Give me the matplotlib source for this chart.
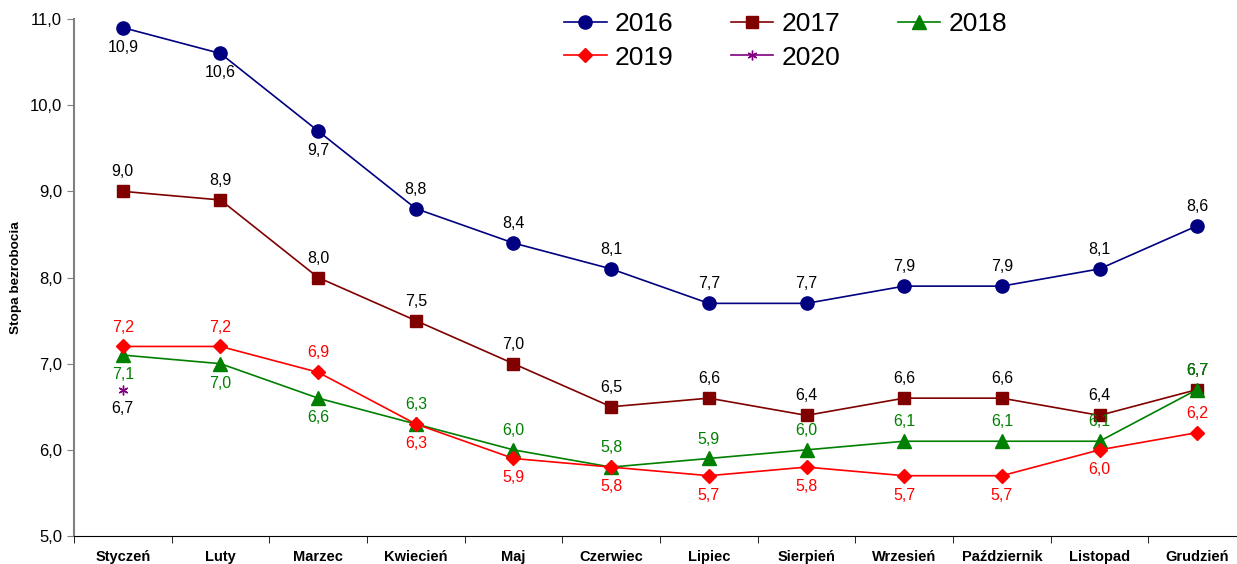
import matplotlib.pyplot as plt
from matplotlib.ticker import FuncFormatter, FixedLocator

plt.rcParams['font.family'] = ['Liberation Sans', 'DejaVu Sans']

months = ['Styczeń', 'Luty', 'Marzec', 'Kwiecień', 'Maj', 'Czerwiec', 'Lipiec',
          'Sierpień', 'Wrzesień', 'Październik', 'Listopad', 'Grudzień']

y2016 = [10.9, 10.6, 9.7, 8.8, 8.4, 8.1, 7.7, 7.7, 7.9, 7.9, 8.1, 8.6]
y2017 = [9.0, 8.9, 8.0, 7.5, 7.0, 6.5, 6.6, 6.4, 6.6, 6.6, 6.4, 6.7]
y2018 = [7.1, 7.0, 6.6, 6.3, 6.0, 5.8, 5.9, 6.0, 6.1, 6.1, 6.1, 6.7]
y2019 = [7.2, 7.2, 6.9, 6.3, 5.9, 5.8, 5.7, 5.8, 5.7, 5.7, 6.0, 6.2]
y2020 = [6.7]

# label placement: +1 above, -1 below
pos2016 = [-1, -1, -1, 1, 1, 1, 1, 1, 1, 1, 1, 1]
pos2017 = [1] * 12
pos2018 = [-1, -1, -1, 1, 1, 1, 1, 1, 1, 1, 1, 1]
pos2019 = [1, 1, 1, -1, -1, -1, -1, -1, -1, -1, -1, 1]
pos2020 = [-1]

series = [
    ('2016', y2016, pos2016, '#000080', 'o', 9.5, 'black'),
    ('2017', y2017, pos2017, '#800000', 's', 9, 'black'),
    ('2018', y2018, pos2018, '#008000', '^', 9.5, '#008000'),
    ('2019', y2019, pos2019, '#FF0000', 'D', 7.5, '#FF0000'),
    ('2020', y2020, pos2020, '#800080', (6, 2, 0), 7, 'black'),
]

fig = plt.figure(figsize=(12.37, 5.64), dpi=100)
ax = fig.add_axes([0.0598, 0.0496, 0.9475, 0.9167])

def fmt(v):
    return f'{v:.1f}'.replace('.', ',')

lines = {}
for name, ys, pos, col, mk, ms, tcol in series:
    xs = list(range(len(ys)))
    ln, = ax.plot(xs, ys, color=col, marker=mk, markersize=ms, linewidth=1.2,
                  markeredgecolor=col, markerfacecolor=col, label=name, zorder=3)
    lines[name] = ln
    for x, y, p in zip(xs, ys, pos):
        ax.annotate(fmt(y), (x, y), xytext=(0, 14 * p), textcoords='offset points',
                    ha='center', va='center', fontsize=11.5, color=tcol)

ax.set_xlim(-0.5, 11.5)
ax.set_ylim(5, 11)
ax.set_yticks([5, 6, 7, 8, 9, 10, 11])
ax.yaxis.set_major_formatter(FuncFormatter(lambda v, p: fmt(v)))
ax.tick_params(axis='y', labelsize=12, length=5, color='#808080')

ax.set_xticks(range(12))
ax.set_xticklabels(months, fontsize=10.5, fontweight='bold')
ax.tick_params(axis='x', length=0, pad=10)
ax.xaxis.set_minor_locator(FixedLocator([i + 0.5 for i in range(-1, 12)]))
ax.tick_params(axis='x', which='minor', length=5, color='black')

ax.spines['top'].set_visible(False)
ax.spines['right'].set_visible(False)
ax.spines['left'].set_color('#808080')
ax.spines['left'].set_linewidth(1.5)
ax.spines['bottom'].set_color('black')

ax.set_ylabel('Stopa bezrobocia', fontsize=9.7, fontweight='bold', labelpad=6)

order = ['2016', '2019', '2017', '2020', '2018']
fig.legend([lines[k] for k in order], order, ncol=3, frameon=False,
           loc='upper left', bbox_to_anchor=(0.437, 1.02), fontsize=19,
           handlelength=1.6, handletextpad=0.3, columnspacing=2.2,
           labelspacing=0.35)

fig.savefig('out.png', dpi=100)
